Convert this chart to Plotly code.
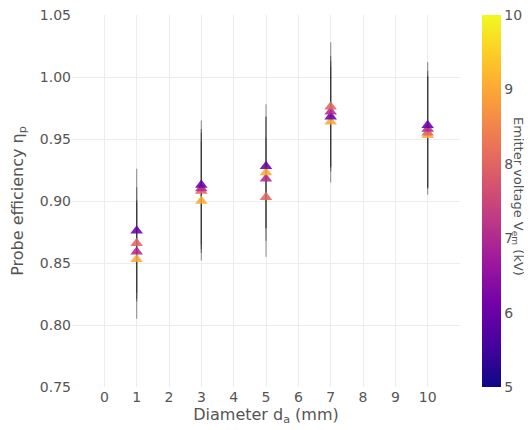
import plotly.graph_objects as go

diameters = [1, 1, 1, 1, 3, 3, 3, 3, 5, 5, 5, 5, 7, 7, 7, 7, 10, 10, 10, 10]
voltages = [9, 7, 8, 6, 9, 8, 7, 6, 8, 7, 9, 6, 9, 6, 7, 8, 9, 8, 7, 6]
efficiency = [0.853, 0.859, 0.866, 0.876,
              0.900, 0.908, 0.910, 0.913,
              0.903, 0.918, 0.923, 0.928,
              0.964, 0.968, 0.972, 0.976,
              0.953, 0.955, 0.958, 0.961]
errors = [0.048, 0.040, 0.045, 0.050,
          0.048, 0.050, 0.045, 0.052,
          0.048, 0.050, 0.045, 0.050,
          0.049, 0.040, 0.045, 0.052,
          0.048, 0.045, 0.047, 0.051]
x_ticks = [0, 1, 2, 3, 4, 5, 6, 7, 8, 9, 10]
y_ticks = [0.75, 0.80, 0.85, 0.90, 0.95, 1.00, 1.05]
cbar_ticks = [5, 6, 7, 8, 9, 10]

font_color = "#555555"
fam = "DejaVu Sans, Arial, sans-serif"

fig = go.Figure()
fig.add_trace(go.Scatter(
    x=diameters, y=efficiency, mode="markers",
    error_y=dict(type="data", array=errors, visible=True, color="rgba(30,30,30,0.38)",
                 thickness=1.3, width=0),
    marker=dict(symbol="triangle-up", size=11, color=voltages, colorscale="Plasma",
                cmin=5, cmax=10, opacity=0.88, line=dict(width=0),
                colorbar=dict(
                    tickvals=cbar_ticks, ticktext=[str(v) for v in cbar_ticks],
                    tickfont=dict(size=14, color=font_color, family=fam),
                    ticklabeloverflow="allow",
                    thickness=19, len=1.0, lenmode="fraction", y=0.5, yanchor="middle",
                    ypad=0, xpad=0,
                    x=1.057, xanchor="left", outlinewidth=0, ticks="", ticklen=2)),
    showlegend=False,
))

fig.add_annotation(text="Emitter voltage V<sub>em</sub> (kV)", textangle=90,
                   xref="paper", yref="paper", x=1.15, y=0.513,
                   xanchor="center", yanchor="middle", showarrow=False,
                   font=dict(size=13, color=font_color, family=fam))

fig.update_layout(
    width=524, height=422,
    margin=dict(l=64, r=72, t=7, b=43, autoexpand=False),
    paper_bgcolor="white", plot_bgcolor="white",
    font=dict(family=fam, size=14, color=font_color),
    xaxis=dict(range=[-1, 11], tickvals=x_ticks, ticktext=[str(v) for v in x_ticks],
               showgrid=True, gridcolor="#ececec", gridwidth=1, zeroline=False,
               showline=False, ticks="", ticklabeloverflow="allow",
               tickfont=dict(size=14, color=font_color, family=fam),
               title=dict(text="Diameter d<sub>a</sub> (mm)", standoff=0,
                          font=dict(size=16, color=font_color, family=fam))),
    yaxis=dict(range=[0.75, 1.05], tickvals=y_ticks, tickformat=".2f",
               showgrid=True, gridcolor="#ececec", gridwidth=1, zeroline=False,
               showline=False, ticks="", ticklabeloverflow="allow",
               tickfont=dict(size=14, color=font_color, family=fam),
               title=dict(text="Probe efficiency η<sub>p</sub>", standoff=12,
                          font=dict(size=16, color=font_color, family=fam))),
)

fig.write_html("out.html")
